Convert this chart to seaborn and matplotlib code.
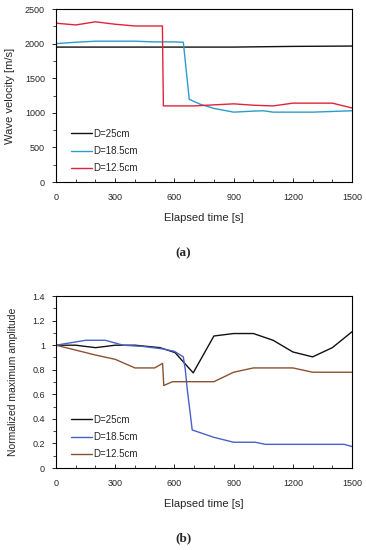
import pandas as pd
import numpy as np
import matplotlib
matplotlib.use('Agg')
import matplotlib.pyplot as plt
import seaborn as sns
from matplotlib.ticker import MultipleLocator, FuncFormatter

sns.set_style('ticks')
plt.rcParams['font.family'] = ['Liberation Sans', 'DejaVu Sans']

# (a) wave velocity
t25 = [0, 300, 600, 900, 1200, 1500]
v25 = [1950, 1950, 1950, 1950, 1960, 1965]
t18 = [0, 100, 200, 300, 400, 500, 600, 645, 675, 730, 800, 900, 1000, 1050, 1100, 1200, 1300, 1400, 1500]
v18 = [2000, 2020, 2035, 2035, 2035, 2025, 2025, 2020, 1195, 1125, 1064, 1010, 1025, 1030, 1010, 1010, 1010, 1020, 1030]
t12 = [0, 100, 200, 300, 400, 539, 544, 600, 700, 800, 900, 1000, 1100, 1200, 1300, 1400, 1500]
v12 = [2295, 2270, 2315, 2280, 2255, 2255, 1100, 1100, 1100, 1115, 1130, 1110, 1100, 1140, 1140, 1140, 1070]

# (b) normalized maximum amplitude
tb25 = [0, 100, 200, 300, 400, 527, 603, 695, 800, 900, 1000, 1100, 1200, 1300, 1400, 1500]
b25 = [1.0, 1.0, 0.98, 1.0, 1.0, 0.98, 0.94, 0.775, 1.075, 1.095, 1.095, 1.04, 0.945, 0.905, 0.98, 1.11]
tb18 = [0, 150, 250, 340, 440, 540, 600, 645, 655, 665, 678, 690, 800, 900, 1010, 1060, 1200, 1460, 1500]
b18 = [1.0, 1.04, 1.04, 1.0, 0.99, 0.97, 0.95, 0.905, 0.80, 0.64, 0.47, 0.31, 0.25, 0.21, 0.21, 0.193, 0.193, 0.193, 0.175]
tb12 = [0, 100, 200, 300, 400, 500, 540, 546, 590, 800, 900, 1000, 1200, 1300, 1500]
b12 = [1.0, 0.96, 0.92, 0.885, 0.815, 0.815, 0.852, 0.672, 0.703, 0.703, 0.78, 0.815, 0.815, 0.78, 0.78]

labels = ['D=25cm', 'D=18.5cm', 'D=12.5cm']


def long_df(ts, vs):
    parts = []
    for lab, t, v in zip(labels, ts, vs):
        parts.append(pd.DataFrame({'t': t, 'v': v, 'D': lab}))
    return pd.concat(parts, ignore_index=True)


df_a = long_df([t25, t18, t12], [v25, v18, v12])
df_b = long_df([tb25, tb18, tb12], [b25, b18, b12])

fig = plt.figure(figsize=(3.66, 5.5), dpi=100)
ax1 = fig.add_axes([0.153, 0.669, 0.809, 0.3146])
ax2 = fig.add_axes([0.153, 0.149, 0.809, 0.3127])

pal_a = {'D=25cm': '#111111', 'D=18.5cm': '#2b9ccc', 'D=12.5cm': '#e0233e'}
pal_b = {'D=25cm': '#111111', 'D=18.5cm': '#4a60c8', 'D=12.5cm': '#8a5232'}

sns.lineplot(data=df_a, x='t', y='v', hue='D', palette=pal_a, estimator=None,
             sort=False, lw=1.0, ax=ax1)
sns.lineplot(data=df_b, x='t', y='v', hue='D', palette=pal_b, estimator=None,
             sort=False, lw=1.0, ax=ax2)

ax1.set_ylim(0, 2500)
ax1.yaxis.set_major_locator(MultipleLocator(500))
ax1.yaxis.set_minor_locator(MultipleLocator(250))
ax1.set_ylabel('Wave velocity [m/s]', fontsize=8)

ax2.set_ylim(0, 1.4)
ax2.yaxis.set_major_locator(MultipleLocator(0.2))
ax2.yaxis.set_minor_locator(MultipleLocator(0.1))
ax2.yaxis.set_major_formatter(FuncFormatter(lambda v, p: f'{v:g}'))
ax2.set_ylabel('Normalized maximum amplitude', fontsize=7.5)

for ax, lab, y in [(ax1, '(a)', 0.54), (ax2, '(b)', 0.022)]:
    ax.set_xlim(0, 1500)
    ax.xaxis.set_major_locator(MultipleLocator(300))
    ax.xaxis.set_minor_locator(MultipleLocator(100))
    ax.set_xlabel('Elapsed time [s]', fontsize=8, labelpad=8)
    ax.tick_params(axis='x', which='both', direction='in', labelsize=6.5, pad=8)
    ax.tick_params(axis='x', which='major', length=3, width=0.7)
    ax.tick_params(axis='x', which='minor', length=2, width=0.6)
    ax.tick_params(axis='y', which='both', direction='out', labelsize=6.5, pad=5)
    ax.tick_params(axis='y', which='major', length=3, width=0.7)
    ax.tick_params(axis='y', which='minor', length=2, width=0.6)
    for s in ax.spines.values():
        s.set_visible(True)
        s.set_linewidth(0.8)
        s.set_color('black')
    ax.legend(loc='lower left', bbox_to_anchor=(0.02, 0.0), frameon=False,
              fontsize=7, handlelength=2.2, handletextpad=0.1, labelspacing=0.75)
    fig.text(0.5, y, lab, ha='center', va='center', fontsize=9.5,
             family='Liberation Serif', fontweight='bold')

ax1.yaxis.set_label_coords(-0.14, 0.5)
ax2.yaxis.set_label_coords(-0.13, 0.5)

fig.savefig('out.png', dpi=100)
